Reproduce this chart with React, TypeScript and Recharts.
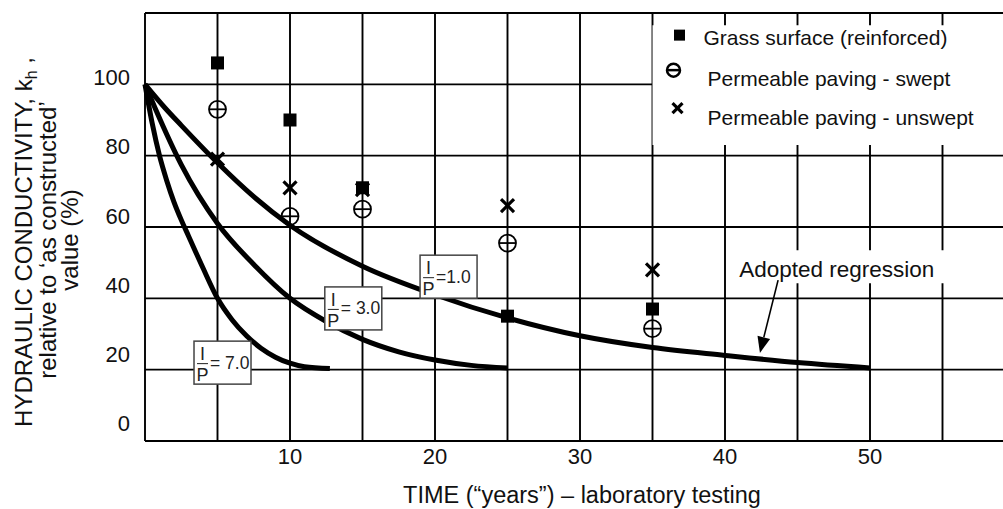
import React from 'react';
import {
  ComposedChart, Line, Scatter, XAxis, YAxis, CartesianGrid,
  ReferenceArea, ReferenceDot, ReferenceLine
} from 'recharts';

// field observations (time in "years", k_h as % of as-constructed)
const years = [5, 10, 15, 25, 35];
const grassValues = [106, 90, 71, 35, 37];
const sweptValues = [93, 63, 65, 55.5, 31.5];
const unsweptValues = [79, 71, 70.5, 66, 48];

// decay curves
const ratioOneTime = [0, 1.4, 2.5, 5, 7.5, 10, 15, 20, 25, 30, 35, 40, 45, 50];
const ratioOneK = [100, 93.3, 88.5, 78, 68.5, 60.5, 49, 41, 34.5, 29.5, 26.2, 24, 22, 20.5];
const ratioThreeTime = [0, 0.7, 2.5, 5, 7.5, 10, 12.5, 15, 17.5, 20, 22.5, 25];
const ratioThreeK = [100, 93.3, 77.5, 61, 49.5, 40, 33.5, 28.5, 25, 22.7, 21.2, 20.5];
const ratioSevenTime = [0, 0.5, 1, 1.5, 2, 2.5, 3, 4, 5, 6, 7, 8, 9, 10, 11, 12.75];
const ratioSevenK = [100, 89, 80, 73, 67, 62, 57.5, 48.5, 40, 34, 29.5, 26, 23.5, 21.8, 20.8, 20.3];

const xTicks = [0, 5, 10, 15, 20, 25, 30, 35, 40, 45, 50, 55, 60];
const xLabels = [10, 20, 30, 40, 50];
const yTicks = [0, 20, 40, 60, 80, 100, 120];
const yLabels = [0, 20, 40, 60, 80, 100];

const legendNames = ['Grass surface (reinforced)', 'Permeable paving - swept', 'Permeable paving - unswept'];

const FONT = '"Liberation Sans", Arial, Helvetica, sans-serif';

const toPoints = (ts: number[], ks: number[]) => ts.map((t, i) => ({ t, k: ks[i] }));

const grassData = toPoints(years, grassValues);
const sweptData = toPoints(years, sweptValues);
const unsweptData = toPoints(years, unsweptValues);
const ratioOne = toPoints(ratioOneTime, ratioOneK);
const ratioThree = toPoints(ratioThreeTime, ratioThreeK);
const ratioSeven = toPoints(ratioSevenTime, ratioSevenK);

const SquareMark = ({ cx, cy, size = 13 }: any) => (
  <rect x={cx - size / 2} y={cy - size / 2} width={size} height={size} fill="#000" />
);

const ThetaMark = ({ cx, cy, r = 8.5, w = 1.8 }: any) => (
  <g stroke="#000" strokeWidth={w} fill="none">
    <circle cx={cx} cy={cy} r={r} />
    <line x1={cx - r} y1={cy} x2={cx + r} y2={cy} />
  </g>
);

const CrossMark = ({ cx, cy, h = 6.5, w = 3.2 }: any) => (
  <g stroke="#000" strokeWidth={w}>
    <line x1={cx - h} y1={cy - h} x2={cx + h} y2={cy + h} />
    <line x1={cx - h} y1={cy + h} x2={cx + h} y2={cy - h} />
  </g>
);

const XTick = ({ x, y, payload }: any) => {
  if (!xLabels.includes(payload.value)) return <g />;
  return (
    <text x={x} y={y + 22.5} textAnchor="middle" fontFamily={FONT} fontSize={22} fill="#111">
      {payload.value}
    </text>
  );
};

const YTick = ({ x, y, payload }: any) => {
  if (!yLabels.includes(payload.value)) return <g />;
  const shift = 1 - (100 - payload.value) * 0.11;
  return (
    <text x={x - 15} y={y + shift} textAnchor="end" fontFamily={FONT} fontSize={22} fill="#111">
      {payload.value}
    </text>
  );
};

const RatioBox = ({ cx, cy, value, spaced }: any) => (
  <g fontFamily={FONT} fill="#222">
    <rect x={cx} y={cy} width={57} height={43} fill="#fff" stroke="#444" strokeWidth={1.5} />
    <text x={cx + 8.5} y={cy + 19} textAnchor="middle" fontSize={18}>I</text>
    <line x1={cx + 3} y1={cy + 22.5} x2={cx + 14} y2={cy + 22.5} stroke="#222" strokeWidth={1} />
    <text x={cx + 8.5} y={cy + 40} textAnchor="middle" fontSize={18}>P</text>
    <text x={cx + 16} y={cy + 27.5} fontSize={17.5}>{spaced ? `= ${value}` : `=${value}`}</text>
  </g>
);

const Arrow = ({ x1, y1, x2, y2 }: any) => {
  const dx = x2 - x1;
  const dy = y2 - y1;
  const len = Math.sqrt(dx * dx + dy * dy);
  const ux = dx / len;
  const uy = dy / len;
  const bx = x2 - ux * 16;
  const by = y2 - uy * 16;
  return (
    <g>
      <line x1={x1} y1={y1} x2={bx} y2={by} stroke="#000" strokeWidth={1.6} />
      <polygon
        points={`${x2},${y2} ${bx - uy * 6.5},${by + ux * 6.5} ${bx + uy * 6.5},${by - ux * 6.5}`}
        fill="#000"
      />
    </g>
  );
};

const LegendContent = ({ viewBox }: any) => {
  const { x, y } = viewBox;
  return (
    <g fontFamily={FONT} fontSize={21} fill="#111">
      <SquareMark cx={x + 27} cy={y + 10} size={11} />
      <text x={x + 51} y={y + 20}>{legendNames[0]}</text>
      <ThetaMark cx={x + 21} cy={y + 45} r={6.5} w={2.5} />
      <text x={x + 55} y={y + 61}>{legendNames[1]}</text>
      <CrossMark cx={x + 25} cy={y + 83} h={5} w={3.2} />
      <text x={x + 55} y={y + 100}>{legendNames[2]}</text>
    </g>
  );
};

const RegressionLabel = ({ viewBox }: any) => (
  <text x={viewBox.x + 5.5} y={viewBox.y + 26.5} fontFamily={FONT} fontSize={22.5} fill="#111">
    Adopted regression
  </text>
);

const YTitle = () => (
  <g fontFamily={FONT} fontSize={24} fill="#111" textAnchor="middle">
    <text x={32} y={242} transform="rotate(-90, 32, 242)">
      HYDRAULIC CONDUCTIVITY, k
      <tspan fontSize={16} dy={5}>h</tspan>
      <tspan dy={-5}> ,</tspan>
    </text>
    <text x={56} y={240} transform="rotate(-90, 56, 240)">relative to ‘as constructed’</text>
    <text x={78} y={240} transform="rotate(-90, 78, 240)">value (%)</text>
  </g>
);

const XTitle = () => (
  <text x={582} y={503} textAnchor="middle" fontFamily={FONT} fontSize={23.5} fill="#111">
    TIME (“years”) – laboratory testing
  </text>
);

export default function App() {
  return (
    <div style={{ position: 'absolute', left: 0, top: 0, width: 1003, height: 509, overflow: 'hidden', background: '#fff' }}>
      <ComposedChart width={1020} height={509} margin={{ top: 13, right: 5, left: 0, bottom: 0 }}>
        <CartesianGrid stroke="#000" strokeWidth={1.9} />
        <XAxis
          dataKey="t"
          type="number"
          domain={[0, 60]}
          ticks={xTicks}
          height={68}
          axisLine={false}
          tickLine={false}
          tickSize={0}
          tickMargin={0}
          tick={<XTick />}
          interval={0}
          label={{ content: () => <XTitle /> }}
        />
        <YAxis
          dataKey="k"
          type="number"
          domain={[0, 120]}
          ticks={yTicks}
          width={145}
          axisLine={false}
          tickLine={false}
          tickSize={0}
          tickMargin={0}
          tick={<YTick />}
          interval={0}
          label={{ content: () => <YTitle /> }}
        />
        <ReferenceArea x1={35} x2={60} y1={83} y2={116.6} fill="#fff" fillOpacity={1} stroke="none" label={{ content: (p: any) => <LegendContent {...p} /> }} />
        <ReferenceArea x1={40.6} x2={55.5} y1={44.2} y2={53.5} fill="#fff" fillOpacity={1} stroke="none" label={{ content: (p: any) => <RegressionLabel {...p} /> }} />

        <Line data={ratioOne} dataKey="k" type="monotone" stroke="#000" strokeWidth={5} dot={false} isAnimationActive={false} />
        <Line data={ratioThree} dataKey="k" type="monotone" stroke="#000" strokeWidth={5} dot={false} isAnimationActive={false} />
        <Line data={ratioSeven} dataKey="k" type="monotone" stroke="#000" strokeWidth={5} dot={false} isAnimationActive={false} />

        <Scatter data={unsweptData} dataKey="k" shape={(p: any) => <CrossMark cx={p.cx} cy={p.cy} />} isAnimationActive={false} />
        <Scatter data={sweptData} dataKey="k" shape={(p: any) => <ThetaMark cx={p.cx} cy={p.cy} />} isAnimationActive={false} />
        <Scatter data={grassData} dataKey="k" shape={(p: any) => <SquareMark cx={p.cx} cy={p.cy} />} isAnimationActive={false} />

        <ReferenceDot x={18.97} y={52.1} r={0} zIndex={1500} shape={(p: any) => <RatioBox cx={p.cx} cy={p.cy} value="1.0" spaced={false} />} />
        <ReferenceDot x={12.4} y={43.2} r={0} zIndex={1500} shape={(p: any) => <RatioBox cx={p.cx} cy={p.cy} value="3.0" spaced />} />
        <ReferenceDot x={3.38} y={28.0} r={0} zIndex={1500} shape={(p: any) => <RatioBox cx={p.cx} cy={p.cy} value="7.0" spaced />} />
        <ReferenceLine
          segment={[{ x: 43.66, y: 45.1 }, { x: 42.41, y: 24.7 }]}
          zIndex={1500}
          shape={(p: any) => <Arrow {...p} />}
        />
      </ComposedChart>
    </div>
  );
}
